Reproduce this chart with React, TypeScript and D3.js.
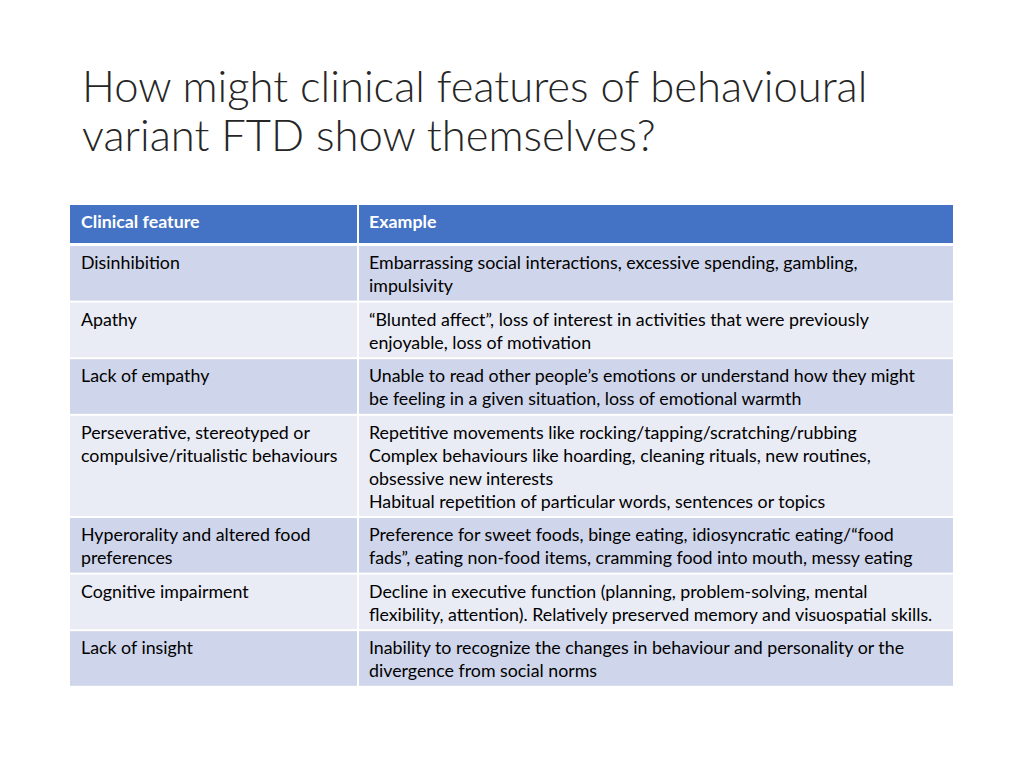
import * as d3 from "d3";
import { useRef, useEffect } from "react";

// slide title, two lines
const titleLines = [
  "How might clinical features of behavioural",
  "variant FTD show themselves?",
];

// table header
const headers = ["Clinical feature", "Example"];

// first column, each entry already split into its lines
const features = [
  ["Disinhibition"],
  ["Apathy"],
  ["Lack of empathy"],
  ["Perseverative, stereotyped or", "compulsive/ritualistic behaviours"],
  ["Hyperorality and altered food", "preferences"],
  ["Cognitive impairment"],
  ["Lack of insight"],
];

// second column
const examples = [
  ["Embarrassing social interactions, excessive spending, gambling,", "impulsivity"],
  ["\u201cBlunted affect\u201d, loss of interest in activities that were previously", "enjoyable, loss of motivation"],
  ["Unable to read other people\u2019s emotions or understand how they might", "be feeling in a given situation, loss of emotional warmth"],
  [
    "Repetitive movements like rocking/tapping/scratching/rubbing",
    "Complex behaviours like hoarding, cleaning rituals, new routines,",
    "obsessive new interests",
    "Habitual repetition of particular words, sentences or topics",
  ],
  ["Preference for sweet foods, binge eating, idiosyncratic eating/\u201cfood", "fads\u201d, eating non-food items, cramming food into mouth, messy eating"],
  ["Decline in executive function (planning, problem-solving, mental", "flexibility, attention). Relatively preserved memory and visuospatial skills."],
  ["Inability to recognize the changes in behaviour and personality or the", "divergence from social norms"],
];

export default function App() {
  const svgRef = useRef<SVGSVGElement>(null);

  useEffect(() => {
    const svg = d3.select(svgRef.current);
    svg.selectAll("*").remove();

    const font = "Lato, 'Open Sans', sans-serif";
    const left = 70;
    const right = 953;
    const split = 357;
    const headerTop = 205;
    const headerH = 38;
    const lineH = 22.8;
    const textLineH = 23;
    const gap = 2;
    const textSize = 17.8;

    // title
    svg.append("g")
      .selectAll("text")
      .data(titleLines)
      .join("text")
      .attr("x", 82)
      .attr("y", (d, i) => 102 + i * 49)
      .attr("font-family", font)
      .attr("font-weight", 300)
      .attr("font-size", 43.6)
      .attr("fill", "#262626")
      .text(d => d);

    // header row
    const cols = [
      { x0: left, x1: split, pad: 11 },
      { x0: split + gap, x1: right, pad: 10 },
    ];
    const head = svg.append("g");
    head.selectAll("rect")
      .data(cols)
      .join("rect")
      .attr("x", d => d.x0)
      .attr("y", headerTop)
      .attr("width", d => d.x1 - d.x0)
      .attr("height", headerH)
      .attr("fill", "#4472C4");
    head.selectAll("text")
      .data(headers)
      .join("text")
      .attr("x", (d, i) => cols[i].x0 + cols[i].pad)
      .attr("y", headerTop + 23)
      .attr("font-family", font)
      .attr("font-weight", 700)
      .attr("font-size", textSize)
      .attr("fill", "#ffffff")
      .text(d => d);

    // rows: height depends on number of lines in the example cell
    const rows = features.map((f, i) => ({
      feature: f,
      example: examples[i],
      lines: Math.max(f.length, examples[i].length),
    }));
    let y = headerTop + headerH + 3;
    const rowPos = rows.map(r => {
      const h = 9 + r.lines * lineH;
      const p = { y, h };
      y += h + gap;
      return p;
    });

    const fill = (i: number) => (i % 2 === 0 ? "#CFD5EA" : "#E9EBF5");

    const body = svg.append("g");
    rows.forEach((r, i) => {
      const { y: ry, h } = rowPos[i];
      const g = body.append("g");
      g.selectAll("rect")
        .data(cols)
        .join("rect")
        .attr("x", d => d.x0)
        .attr("y", ry)
        .attr("width", d => d.x1 - d.x0)
        .attr("height", h)
        .attr("fill", fill(i));
      [r.feature, r.example].forEach((lines, c) => {
        g.append("g")
          .selectAll("text")
          .data(lines)
          .join("text")
          .attr("x", cols[c].x0 + cols[c].pad)
          .attr("y", (d, k) => ry + 23 + k * textLineH)
          .attr("font-family", font)
          .attr("font-size", textSize)
          .attr("fill", "#000000")
          .text(d => d);
      });
    });
  }, []);

  return (
    <svg ref={svgRef} width={1024} height={768}
      style={{ position: "absolute", left: 0, top: 0, background: "#fff" }} />
  );
}
